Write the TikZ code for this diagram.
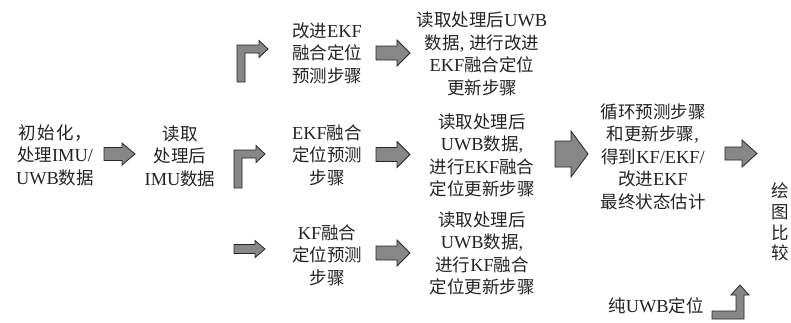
\documentclass[tikz,border=0pt]{standalone}
\usepackage{fontspec}
\setmainfont{Liberation Serif}[Scale=1.05]
\newfontfamily\cjk{Noto Sans CJK SC}
\newcommand\ZH[1]{{\cjk #1}}
\definecolor{arrfill}{RGB}{135,135,135}
\definecolor{txtcol}{RGB}{35,35,35}
\newcommand\barrow[6]{%
  \draw[blockarr] ({#1},{#4-#5}) -- ({#2},{#4-#5}) -- ({#2},{#4-#6}) -- ({#3},{#4})
    -- ({#2},{#4+#6}) -- ({#2},{#4+#5}) -- ({#1},{#4+#5}) -- cycle;}
% bent arrow: stem left x, stem width, stem bottom y, arm y, head base x, tip x, head half
\newcommand\bentarrow[7]{%
  \draw[blockarr] ({#1},{#3}) -- ({#1},{#4-#2/2}) -- ({#5},{#4-#2/2}) -- ({#5},{#4-#7})
    -- ({#6},{#4}) -- ({#5},{#4+#7}) -- ({#5},{#4+#2/2}) -- ({#1+#2},{#4+#2/2})
    -- ({#1+#2},{#3}) -- cycle;}
\tikzset{
  blockarr/.style={fill=arrfill, draw=black!85, line width=0.8pt, line join=miter},
  txt/.style={align=center, text=txtcol, inner sep=0pt,
    font=\fontsize{17.5}{22.5}\selectfont},
}
\begin{document}
\begin{tikzpicture}[x=1pt,y=-1pt]
\useasboundingbox (0,0) rectangle (791,322);

\node[txt] (t1) at (55,155) {\ZH{初\hspace{2pt}始\hspace{2pt}化，}\\\ZH{处理}IMU/\\UWB\ZH{数据}};
\node[txt] (t2) at (180,156) {\ZH{读取}\\\ZH{处理后}\\IMU\ZH{数据}};

\node[txt] (p1) at (327,53) {\ZH{改进}EKF\\\ZH{融合定位}\\\ZH{预测步骤}};
\node[txt] (p2) at (327,155) {EKF\ZH{融合}\\\ZH{定位预测}\\\ZH{步骤}};
\node[txt] (p3) at (327,255) {KF\ZH{融合}\\\ZH{定位预测}\\\ZH{步骤}};

\node[txt] (u1) at (482,54) {\ZH{读取处理后}UWB\\\ZH{数据}, \ZH{进行改进}\\EKF\ZH{融合定位}\\\ZH{更新步骤}};
\node[txt] (u2) at (482,155.5) {\ZH{读取处理后}\\UWB\ZH{数据},\\\ZH{进行}EKF\ZH{融合}\\\ZH{定位更新步骤}};
\node[txt] (u3) at (482,253.5) {\ZH{读取处理后}\\UWB\ZH{数据},\\\ZH{进行}KF\ZH{融合}\\\ZH{定位更新步骤}};

\node[txt] (f) at (653,156.5) {\ZH{循环预测步骤}\\\ZH{和更新步骤},\\\ZH{得到}KF/EKF/\\\ZH{改进}EKF\\\ZH{最终状态估计}};

\node[txt, font=\fontsize{17.5}{20.8}\selectfont] (v) at (780,222) {\ZH{绘}\\\ZH{图}\\\ZH{比}\\\ZH{较}};
\node[txt] (b) at (656,306) {\ZH{纯}UWB\ZH{定位}};

% straight block arrows
\barrow{104}{122}{135}{154}{6.5}{11}
\barrow{376}{397}{410}{53}{7}{13}
\barrow{376}{397}{410}{154.5}{7}{13}
\barrow{376}{397}{410}{253}{7}{13}
\barrow{234}{255}{265}{249}{4.5}{8.5}
\barrow{555}{571}{588}{154}{13}{23}
\barrow{725}{742}{757}{153.5}{6.5}{13.5}

% bent arrows
\bentarrow{237}{8}{82}{49}{259}{268}{8.5}
\bentarrow{234}{8}{188}{154}{256}{265}{8.5}

% bottom-right bent arrow (right then up)
\draw[blockarr] (712,311) -- (736,311) -- (736,295) -- (731,295) -- (740,285)
  -- (749,295) -- (744,295) -- (744,319) -- (712,319) -- cycle;
\end{tikzpicture}
\end{document}
